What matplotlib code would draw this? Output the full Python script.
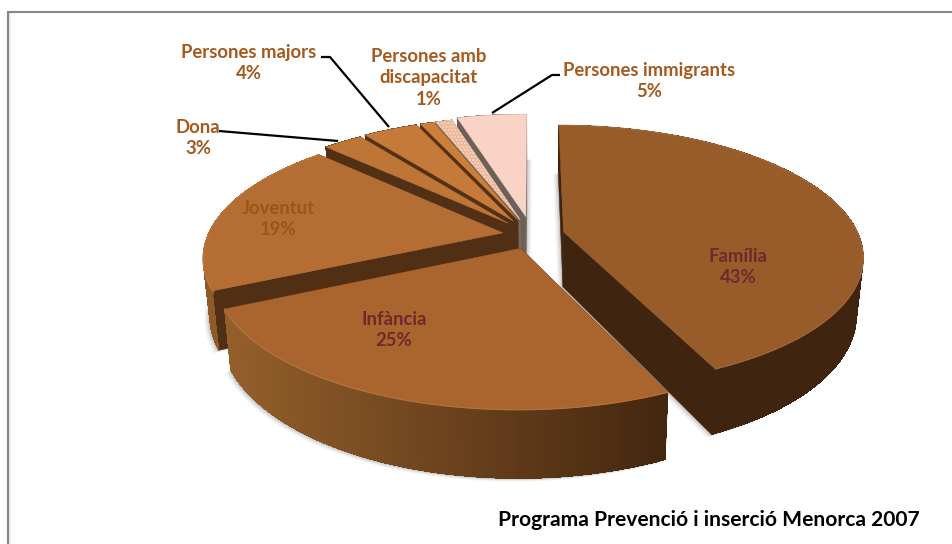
import numpy as np
import matplotlib
matplotlib.use("Agg")
import matplotlib.pyplot as plt
from matplotlib.colors import to_rgb
from matplotlib.collections import PolyCollection

# values, clockwise from 12 o'clock
categories = ["Família", "Infància", "Joventut", "Dona", "Persones majors",
              "Persones amb\ndiscapacitat", "", "Persones immigrants"]
values = [43.5, 25, 19.4, 2.6, 3.6, 0.9, 1.1, 4.6]
pct_labels = ["43%", "25%", "19%", "3%", "4%", "1%", "", "5%"]

# --- look of each slice ---
top_colors = ["#985b2a", "#aa652f", "#b46d33", "#bf7536", "#c67a39", "#cc7f3a", "#eeb596", "#f9d3c5"]
wall_left = ["#3f2410", "#96602b", "#8f5a28", "#523015", "#523015", "#523015", "#7a6a60", "#6d6058"]
wall_right = ["#3f2410", "#442710", "#512f14", "#523015", "#523015", "#523015", "#7a6a60", "#6d6058"]
explode = [0.11, 0.11, 0.1, 0.125, 0.13, 0.13, 0.13, 0.15]
draw_order = [7, 6, 5, 4, 3, 2, 0, 1]

# --- fake 3D projection, in pixels ---
CX, CY = 532, 235
RX, RY = 295, 127
PERSP = 0.18
DEPTH = 55
CONVERGE = 0.02


def project(u, v):
    s = 1 / (1 - PERSP * v)
    return CX + RX * u * s, CY + RY * v * s


def drop(x, y, u, v):
    s = 1 / (1 - PERSP * v)
    return x + (CX - x) * CONVERGE, y + DEPTH * s


def mix(a, b, t):
    a, b = np.array(to_rgb(a)), np.array(to_rgb(b))
    return tuple(a + (b - a) * np.clip(t, 0, 1))


fig = plt.figure(figsize=(9.52, 5.44), dpi=100)
ax = fig.add_axes([0, 0, 1, 1])
ax.set_xlim(0, 952)
ax.set_ylim(544, 0)
ax.axis("off")

# frame of the chart
ax.plot([10.2, 10.2], [14, 544], color="#e8e8e8", lw=1.2, zorder=1)
ax.plot([8, 8, 952], [544, 12, 12], color="#868686", lw=1.5, zorder=1, solid_joinstyle="miter")

edges = np.cumsum([0] + values) / sum(values) * 2 * np.pi
z = 5
for i in draw_order:
    a0, a1 = edges[i], edges[i + 1]
    mid = (a0 + a1) / 2
    off_u, off_v = explode[i] * np.sin(mid), -explode[i] * np.cos(mid)
    th = np.linspace(a0, a1, max(int(np.degrees(a1 - a0)) * 2, 6))
    us = off_u + np.sin(th)
    vs = off_v - np.cos(th)
    xs, ys = project(us, vs)
    x0, y0 = project(off_u, off_v)
    bx, by = drop(xs, ys, us, vs)
    bx0, by0 = drop(x0, y0, off_u, off_v)

    # soft grey shadow just outside the walls
    for grow, alpha in [(5, 0.10), (3, 0.15), (1.5, 0.2)]:
        ax.fill(np.r_[bx0 - grow, bx - grow], np.r_[by0 + grow * 0.6, by + grow * 0.6],
                color="#6f7478", alpha=alpha, lw=0, zorder=z)
        if i == 7:  # this one also throws it to the right
            ax.fill(np.r_[bx0 + grow, bx + grow], np.r_[by0, by],
                    color="#6f7478", alpha=alpha, lw=0, zorder=z)
    z += 1

    # the two cut faces
    for k in (0, -1):
        ax.fill([x0, xs[k], bx[k], bx0], [y0, ys[k], by[k], by0],
                color=wall_right[i], lw=0.4, zorder=z)
    z += 1

    # rim, shaded from left to right (smooth outline under aliased bands)
    ax.fill(np.r_[xs, bx[::-1]], np.r_[ys, by[::-1]], color=mix(wall_left[i], wall_right[i], 0.5),
            lw=0.3, zorder=z)
    quads, cols = [], []
    for j in range(len(th) - 1):
        quads.append([(xs[j], ys[j]), (xs[j + 1], ys[j + 1]), (bx[j + 1], by[j + 1]), (bx[j], by[j])])
        cols.append(mix(wall_left[i], wall_right[i], (xs[j] - 215) / (665 - 215)))
    ax.add_collection(PolyCollection(quads, facecolors=cols, edgecolors=cols, linewidths=0,
                                     antialiaseds=False, zorder=z))
    z += 1

    # top face
    hatch = "....." if categories[i] == "" else None
    ax.fill(np.r_[x0, xs], np.r_[y0, ys], facecolor=top_colors[i], edgecolor="#f6dccd" if hatch else top_colors[i],
            hatch=hatch, lw=0.3, zorder=z)
    if i < 3:
        ax.plot(xs, ys, color=mix(top_colors[i], "#ffffff", 0.1), lw=0.8, zorder=z)
    z += 1

plt.rcParams["hatch.linewidth"] = 0.5

# --- labels ---
FONT = "Lato"
outer = "#a5591e"
inner = "#6e2a2a"
label_style = [(738, 267, inner), (394, 330, inner), (278, 219, "#9b5518"),
               (198, 138, outer), (249, 63, outer), (429, 78, outer), None, (649, 81, outer)]
for i, pos in enumerate(label_style):
    if pos is None:
        continue
    ax.text(pos[0], pos[1], categories[i] + "\n" + pct_labels[i], ha="center", va="center",
            family=FONT, fontweight="bold", fontsize=13.3, color=pos[2], linespacing=1.3, zorder=60)

# leader lines
leaders = [([219, 338], [131, 141]),
           ([321, 330, 389], [57, 57, 127]),
           ([492, 552, 560], [113, 75, 75])]
for lx, ly in leaders:
    ax.plot(lx, ly, color="black", lw=1.6, zorder=60, solid_capstyle="butt")

ax.text(920, 520, "Programa Prevenció i inserció Menorca 2007", ha="right", va="center",
        family=FONT, fontweight="bold", fontsize=15.1, color="black", zorder=60)

fig.savefig("out.png", dpi=100, facecolor="white")
